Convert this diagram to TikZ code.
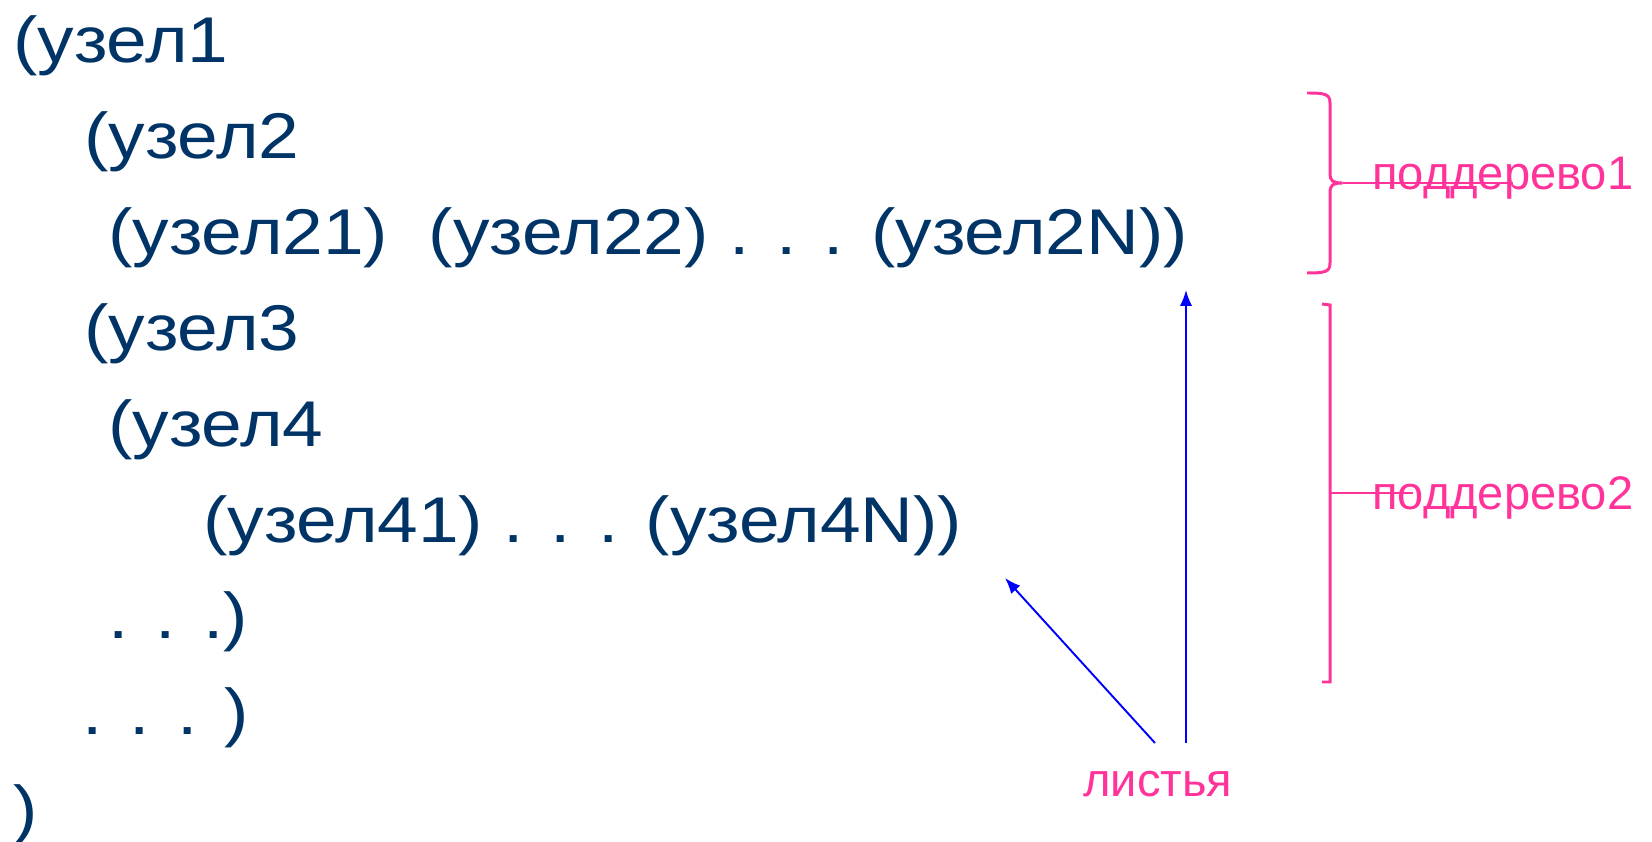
\documentclass[tikz,border=0pt]{standalone}
\usepackage{fontspec}
\setmainfont{Liberation Sans}
\newfontfamily\codefont[FakeStretch=1.13]{Liberation Sans}
\usetikzlibrary{arrows.meta}
\definecolor{codeblue}{HTML}{003366}
\definecolor{labelpink}{HTML}{FF3399}

\begin{document}
\begin{tikzpicture}[
    code/.style={anchor=base west, inner sep=0pt, text=codeblue, font=\codefont\fontsize{36.8pt}{44pt}\selectfont},
    label text/.style={anchor=base west, inner sep=0pt, text=labelpink, font=\fontsize{26.8pt}{32pt}\selectfont},
    bracket/.style={labelpink, line width=1.7pt},
    pointer/.style={-{Latex[length=9pt, width=7pt]}, blue, line width=1.1pt}
]
\useasboundingbox (0,0) rectangle (33.04,-16.84);

% Nested list
\node[code] (n1) at (0.26,-1.26) {(узел1};
\node[code] (n2) at (1.68,-3.18) {(узел2};
\node[code] (n2x) at (2.16,-5.10) {(узел21)\ \ (узел22) . . . (узел2N))};
\node[code] (n3) at (1.68,-7.02) {(узел3};
\node[code] (n4) at (2.16,-8.94) {(узел4};
\node[code] (n4x) at (4.06,-10.86) {(узел41) . . . (узел4N))};
\node[code] (c4) at (2.16,-12.78) {. . .)};
\node[code] (c3) at (1.64,-14.70) {. . . )};
\node[code] (c1) at (0.26,-16.62) {)};

% Subtree 1
\draw[bracket] (26.14,-1.86) .. controls (26.5,-1.86) and (26.6,-1.88) .. (26.6,-2.06)
    -- (26.6,-3.46) .. controls (26.6,-3.62) and (26.65,-3.66) .. (26.85,-3.66)
    .. controls (26.65,-3.66) and (26.6,-3.70) .. (26.6,-3.86)
    -- (26.6,-5.26) .. controls (26.6,-5.44) and (26.5,-5.46) .. (26.14,-5.46);
\coordinate (s1end) at (30.26,-3.66);
\draw[bracket] (26.85,-3.66) -- (s1end);
\node[label text] (sub1) at (27.44,-3.80) {поддерево1};

% Subtree 2
\draw[bracket] (26.44,-6.08) -- (26.6,-6.10) -- (26.6,-13.64) -- (26.44,-13.64);
\coordinate (s2mid) at (26.6,-9.86);
\coordinate (s2end) at (28.26,-9.86);
\draw[bracket] (s2mid) -- (s2end);
\node[label text] (sub2) at (27.44,-10.20) {поддерево2};

% Leaves
\node[label text] (leaves) at (21.66,-15.94) {листья};
\coordinate (tail1) at (23.10,-14.86);
\coordinate (tail2) at (23.72,-14.86);
\coordinate (head1) at (20.10,-11.56);
\coordinate (head2) at (23.72,-5.80);
\draw[pointer] (tail1) -- (head1);
\draw[pointer] (tail2) -- (head2);

\end{tikzpicture}
\end{document}
